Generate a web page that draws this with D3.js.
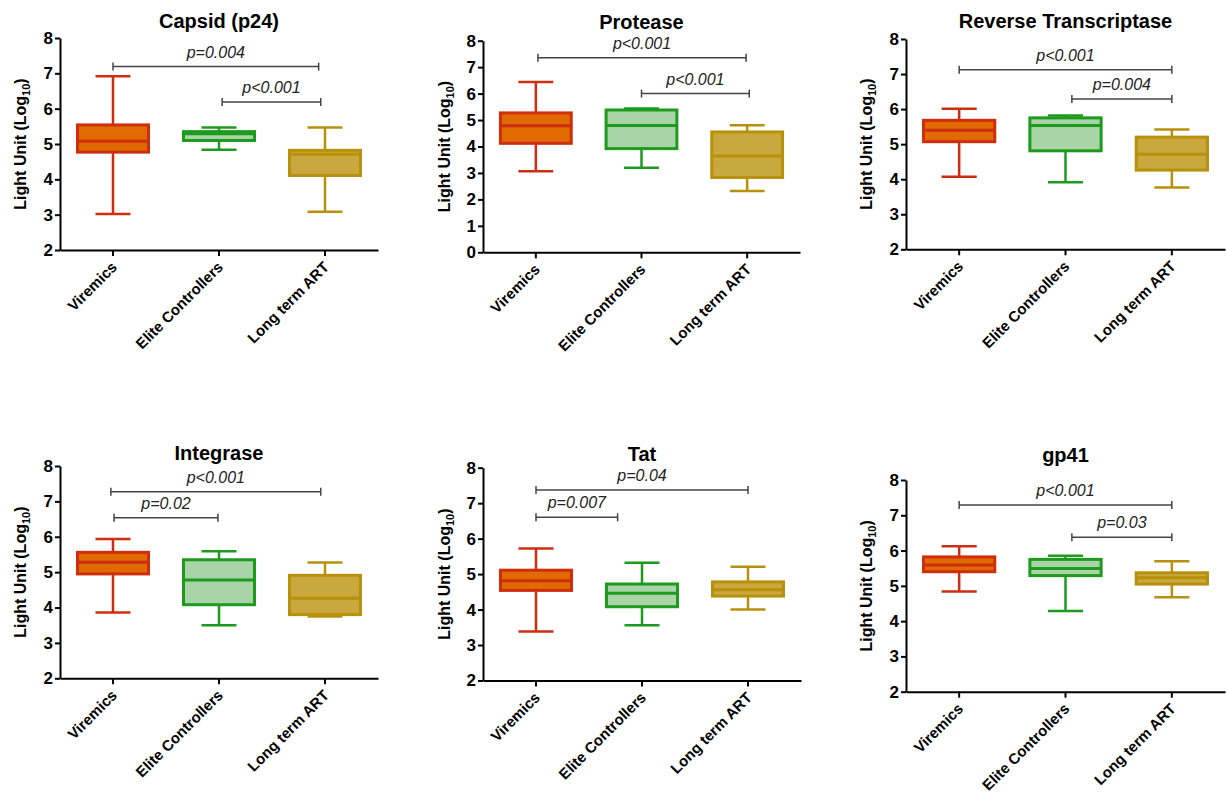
<!DOCTYPE html>
<html>
<head>
<meta charset="utf-8">
<script src="https://cdn.jsdelivr.net/npm/d3@7"></script>
<style>
  html, body { margin: 0; padding: 0; background: #fff; }
  svg { display: block; font-family: "Liberation Sans", Arial, sans-serif; }
</style>
</head>
<body>
<svg id="chart" width="1227" height="798"></svg>
<script>
// ---------------- DATA ----------------
const categories = ["Viremics", "Elite Controllers", "Long term ART"];
const panelTitles = ["Capsid (p24)", "Protease", "Reverse Transcriptase", "Integrase", "Tat", "gp41"];

// box stats per group: [min, q1, median, q3, max]  (Log10 light units)
const capsidStats   = [[3.02, 4.77, 5.08, 5.54, 6.92], [4.84, 5.10, 5.29, 5.35, 5.47], [3.08, 4.11, 4.71, 4.82, 5.47]];
const proteaseStats = [[3.06, 4.12, 4.78, 5.27, 6.44], [3.20, 3.92, 4.79, 5.38, 5.44], [2.32, 2.83, 3.64, 4.55, 4.80]];
const rtStats       = [[4.07, 5.07, 5.40, 5.68, 6.01], [3.91, 4.81, 5.53, 5.75, 5.82], [3.76, 4.26, 4.71, 5.20, 5.42]];
const integraseStats= [[3.86, 4.95, 5.28, 5.56, 5.94], [3.50, 4.08, 4.78, 5.35, 5.59], [3.75, 3.80, 4.26, 4.91, 5.27]];
const tatStats      = [[3.38, 4.54, 4.81, 5.11, 5.72], [3.56, 4.08, 4.46, 4.72, 5.32], [4.00, 4.38, 4.56, 4.78, 5.21]];
const gp41Stats     = [[4.84, 5.40, 5.59, 5.82, 6.12], [4.29, 5.29, 5.49, 5.75, 5.85], [4.68, 5.05, 5.23, 5.37, 5.70]];

// significance brackets: [fromGroup, toGroup, yValue, label]  (group positions in category units)
const capsidBrackets    = [[0, 1.94, 7.19, "p=0.004"], [1.03, 1.96, 6.19, "p<0.001"]];
const proteaseBrackets  = [[0.02, 1.99, 7.36, "p<0.001"], [1.0, 2.02, 6.0, "p<0.001"]];
const rtBrackets        = [[0, 2.0, 7.12, "p<0.001"], [1.06, 2.0, 6.29, "p=0.004"]];
const integraseBrackets = [[-0.02, 1.96, 7.27, "p<0.001"], [0.01, 0.99, 6.54, "p=0.02"]];
const tatBrackets       = [[0, 2.0, 7.37, "p=0.04"], [0, 0.77, 6.6, "p=0.007"]];
const gp41Brackets      = [[0, 2.0, 7.29, "p<0.001"], [1.06, 2.0, 6.38, "p=0.03"]];

// y-axis tick labels
const ticks2to8 = [2, 3, 4, 5, 6, 7, 8];
const ticks0to8 = [0, 1, 2, 3, 4, 5, 6, 7, 8];

// ---------------- STYLE / LAYOUT ----------------
const groupFill   = ["#E06A00", "#A9D4A7", "#C9A83E"];
const groupStroke = ["#CE2D0E", "#1E9A1E", "#B8900C"];

const layouts = [
  { left: 60,  right: 378,  top: 38,    bottom: 250,   titleY: 28,  labelX: 26 },
  { left: 483, right: 800,  top: 40.7,  bottom: 252.3, titleY: 28.5, labelX: 450 },
  { left: 906, right: 1225, top: 39,    bottom: 249.3, titleY: 28,  labelX: 872 },
  { left: 60,  right: 378,  top: 466,   bottom: 678.3, titleY: 460, labelX: 26 },
  { left: 483, right: 801,  top: 467.7, bottom: 680.5, titleY: 460.5, labelX: 450 },
  { left: 906, right: 1225, top: 480,   bottom: 691.7, titleY: 462, labelX: 872 }
];

const panels = [
  { title: panelTitles[0], stats: capsidStats,    brackets: capsidBrackets,    ticks: ticks2to8 },
  { title: panelTitles[1], stats: proteaseStats,  brackets: proteaseBrackets,  ticks: ticks0to8 },
  { title: panelTitles[2], stats: rtStats,        brackets: rtBrackets,        ticks: ticks2to8 },
  { title: panelTitles[3], stats: integraseStats, brackets: integraseBrackets, ticks: ticks2to8 },
  { title: panelTitles[4], stats: tatStats,       brackets: tatBrackets,       ticks: ticks2to8 },
  { title: panelTitles[5], stats: gp41Stats,      brackets: gp41Brackets,      ticks: ticks2to8 }
];

const svg = d3.select("#chart");

panels.forEach((p, i) => {
  const L = layouts[i];
  const g = svg.append("g");

  const x = d3.scaleBand().domain(categories).range([L.left, L.right]).padding(0);
  const y = d3.scaleLinear().domain(d3.extent(p.ticks)).range([L.bottom, L.top]);
  const center = c => x(c) + x.bandwidth() / 2;
  const xpos = d3.scaleLinear().domain([0, 1]).range([center(categories[0]), center(categories[1])]);

  const boxW = x.bandwidth() * 0.67;
  const capW = x.bandwidth() * 0.33;

  p.stats.forEach((s, gi) => {
    const cx = center(categories[gi]);
    const [mn, q1, md, q3, mx] = s;
    const bg = g.append("g");
    bg.append("line").attr("x1", cx).attr("x2", cx).attr("y1", y(mx)).attr("y2", y(q3))
      .attr("stroke", groupStroke[gi]).attr("stroke-width", 2.5);
    bg.append("line").attr("x1", cx).attr("x2", cx).attr("y1", y(q1)).attr("y2", y(mn))
      .attr("stroke", groupStroke[gi]).attr("stroke-width", 2.5);
    bg.append("line").attr("x1", cx - capW / 2).attr("x2", cx + capW / 2).attr("y1", y(mx)).attr("y2", y(mx))
      .attr("stroke", groupStroke[gi]).attr("stroke-width", 2.5);
    bg.append("line").attr("x1", cx - capW / 2).attr("x2", cx + capW / 2).attr("y1", y(mn)).attr("y2", y(mn))
      .attr("stroke", groupStroke[gi]).attr("stroke-width", 2.5);
    bg.append("rect").attr("x", cx - boxW / 2).attr("width", boxW)
      .attr("y", y(q3)).attr("height", y(q1) - y(q3))
      .attr("fill", groupFill[gi]).attr("stroke", groupStroke[gi]).attr("stroke-width", 3);
    bg.append("line").attr("x1", cx - boxW / 2).attr("x2", cx + boxW / 2).attr("y1", y(md)).attr("y2", y(md))
      .attr("stroke", groupStroke[gi]).attr("stroke-width", 3);
  });

  p.brackets.forEach(b => {
    const [a, c, v, lab] = b;
    const x1 = xpos(a), x2 = xpos(c), yy = y(v);
    const bk = g.append("g").attr("stroke", "#444").attr("stroke-width", 1.5);
    bk.append("line").attr("x1", x1).attr("x2", x2).attr("y1", yy).attr("y2", yy);
    bk.append("line").attr("x1", x1).attr("x2", x1).attr("y1", yy - 4).attr("y2", yy + 4);
    bk.append("line").attr("x1", x2).attr("x2", x2).attr("y1", yy - 4).attr("y2", yy + 4);
    g.append("text").attr("x", (x1 + x2) / 2).attr("y", yy - 9)
      .attr("text-anchor", "middle").attr("font-style", "italic").attr("font-size", 16)
      .attr("fill", "#222").text(lab);
  });

  const ya = g.append("g").attr("transform", `translate(${L.left},0)`)
    .call(d3.axisLeft(y).tickValues(p.ticks).tickFormat(d3.format("d")).tickSize(5).tickSizeOuter(0).tickPadding(2));
  ya.select(".domain").attr("stroke", "#000").attr("stroke-width", 2);
  ya.selectAll(".tick line").attr("stroke", "#000").attr("stroke-width", 2);
  ya.selectAll(".tick text").attr("font-size", 17).attr("font-weight", "bold").attr("fill", "#000")
    .attr("font-family", "Liberation Sans, Arial, sans-serif");

  const xa = g.append("g").attr("transform", `translate(0,${L.bottom})`)
    .call(d3.axisBottom(x).tickSize(6).tickSizeOuter(0));
  xa.select(".domain").attr("stroke", "#000").attr("stroke-width", 2);
  xa.selectAll(".tick line").attr("stroke", "#000").attr("stroke-width", 2);
  xa.selectAll(".tick text")
    .attr("font-size", 15).attr("font-weight", "bold").attr("fill", "#000")
    .attr("font-family", "Liberation Sans, Arial, sans-serif")
    .attr("text-anchor", "end").attr("y", 0).attr("dy", 0)
    .attr("transform", "translate(5,18) rotate(-45)");

  g.append("text").attr("x", (L.left + L.right) / 2).attr("y", L.titleY)
    .attr("text-anchor", "middle").attr("font-size", 20).attr("font-weight", "bold").attr("fill", "#000")
    .text(p.title);

  const yl = g.append("text")
    .attr("transform", `translate(${L.labelX},${(L.top + L.bottom) / 2}) rotate(-90)`)
    .attr("text-anchor", "middle").attr("font-size", 16).attr("font-weight", "bold").attr("fill", "#000");
  yl.append("tspan").text("Light Unit (Log");
  yl.append("tspan").attr("font-size", 11).attr("dy", 4).text("10");
  yl.append("tspan").attr("dy", -4).text(")");
});
</script>
</body>
</html>
